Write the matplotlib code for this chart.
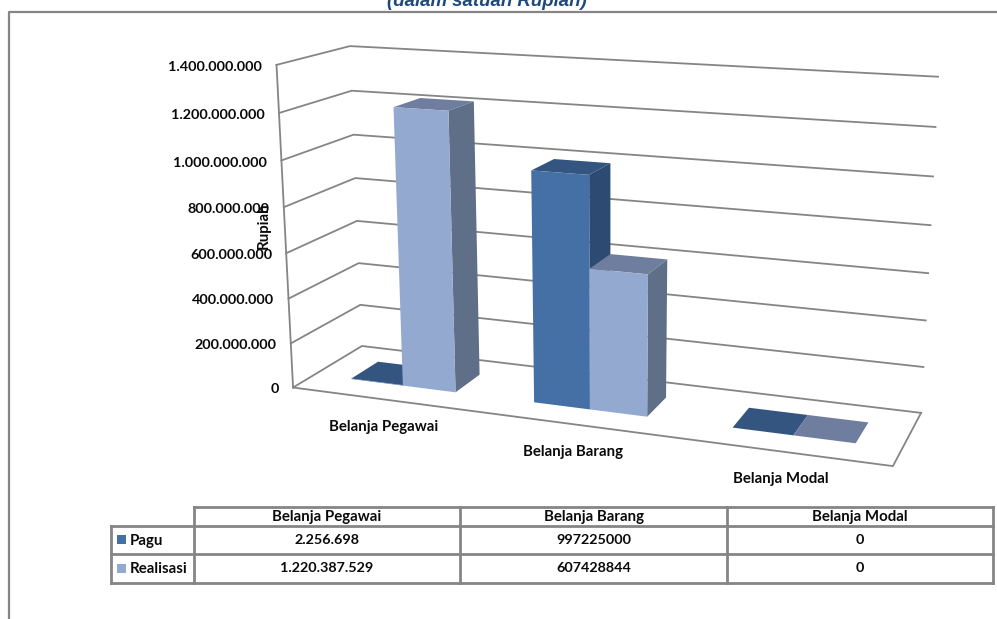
import numpy as np
import matplotlib
matplotlib.use("Agg")
from matplotlib import pyplot as plt

categories = ["Belanja Pegawai", "Belanja Barang", "Belanja Modal"]
pagu = [2256698, 997225000, 0]
realisasi = [1220387529, 607428844, 0]
pagu_text = ["2.256.698", "997225000", "0"]
realisasi_text = ["1.220.387.529", "607428844", "0"]
ticks = [0, 200000000, 400000000, 600000000, 800000000, 1000000000, 1200000000, 1400000000]

W, H = 997, 619
ZMAX = 1400000000.0
GREY = "#858585"

# bottom, top, front, back, left, right
CLEAR = "#00000000"
pagu_faces = [CLEAR, "#34557F", "#4570A6", CLEAR, CLEAR, "#2D4A72"]
real_faces = [CLEAR, "#6F7E9E", "#93A9CF", CLEAR, CLEAR, "#5F6F88"]

# camera fitted on the corners of the plot box: (x, depth, z/ZMAX) -> pixel
box_world = np.array([[0, 0, 0], [3, 0, 0], [3, 1, 0], [0, 1, 0], [0, 0, 1], [0, 1, 1], [3, 1, 1]], float)
box_pixel = np.array([[293, 387.5], [893, 466], [921, 413], [362, 346], [276.5, 65], [350, 46], [938, 76.7]])

A, b = [], []
for (X, Y, Z), (u, v) in zip(box_world, box_pixel):
    A.append([X, Y, Z, 1, 0, 0, 0, 0, -u * X, -u * Y, -u * Z])
    A.append([0, 0, 0, 0, X, Y, Z, 1, -v * X, -v * Y, -v * Z])
    b += [u, v]
p = np.linalg.lstsq(np.array(A), np.array(b), rcond=None)[0]
P = np.append(p, 1).reshape(3, 4)
P[:, 2] /= ZMAX

fig = plt.figure(figsize=(W / 100, H / 100), dpi=100)
ax = fig.add_axes([0, 0, 1, 1], projection="3d")
ax.set_axis_off()
ax.patch.set_visible(False)
ax.computed_zorder = False
ax.set_autoscale_on(False)
ax.set_proj_type("ortho")  # stops mplot3d clipping lines on depth
ax.apply_aspect = lambda position=None: None

vx0, vx1 = ax.viewLim.intervalx
vy0, vy1 = ax.viewLim.intervaly
to_view = np.array([[(vx1 - vx0) / W, 0, vx0], [0, -(vy1 - vy0) / H, vy1], [0, 0, 1]])
Q = to_view @ P
M = np.array([Q[0], Q[1], [0, 1, 0, 0], Q[2]])
ax.get_proj = lambda: M

# wall and floor lines
for v in ticks:
    ax.plot([0, 0, 3], [0, 1, 1], [v, v, v], color=GREY, lw=1.3, zorder=1)
ax.plot([0, 0], [0, 0], [0, ZMAX], color=GREY, lw=1.3, zorder=1)
ax.plot([0, 3, 3], [0, 0, 1], [0, 0, 0], color=GREY, lw=1.3, zorder=1)

# bars
bar_w = 0.29
for i in range(len(categories)):
    ax.bar3d(i + 0.21, 0.3, 0, bar_w, 0.4, pagu[i], color=pagu_faces, shade=False, linewidth=0, zorder=2 + i * 2)
    ax.bar3d(i + 0.5, 0.3, 0, bar_w, 0.4, realisasi[i], color=real_faces, shade=False, linewidth=0, zorder=3 + i * 2)

num_font = dict(family="Lato", weight="bold", color="#0a0a0a", fontsize=10.4)
name_font = dict(family="Lato", weight="bold", color="#0a0a0a", fontsize=10.8)

# overlay in pixels for the frame, title, labels and table
ov = fig.add_axes([0, 0, 1, 1], zorder=5)
ov.set_xlim(0, W)
ov.set_ylim(H, 0)
ov.axis("off")

# tick labels sit just left of the front wall edge
for v in ticks:
    tx, ty, tw = P @ np.array([-0.08, 0, v - 14000000, 1])
    ov.text(tx / tw, ty / tw, f"{v:,}".replace(",", "."), ha="right", va="center", **num_font)

ov.plot([9, 9, W], [H, 12, 12], color=GREY, lw=1.6)
ov.text(487, 2, "(dalam satuan Rupiah)", ha="center", va="center", family="Liberation Sans",
        weight="bold", style="italic", color="#1F497D", fontsize=13.4, clip_on=True)
ov.text(264, 226, "Rupiah", rotation=90, ha="center", va="center", **name_font)

for x, y, s in zip([384, 573, 781], [427, 452, 479], categories):
    ov.text(x, y, s, ha="center", va="center", **name_font)

# data table
col_x = [194, 460, 727, 993]
row_y = [507, 526, 554, 583]
left = 111
ov.plot([col_x[0], col_x[-1]], [row_y[0], row_y[0]], color=GREY, lw=2)
for y in row_y[1:]:
    ov.plot([left, col_x[-1]], [y, y], color=GREY, lw=2)
ov.plot([left, left], [row_y[1], row_y[-1]], color=GREY, lw=2)
for x in col_x:
    ov.plot([x, x], [row_y[0], row_y[-1]], color=GREY, lw=2)

for j, s in enumerate(categories):
    cx = (col_x[j] + col_x[j + 1]) / 2
    ov.text(cx, 516.5, s, ha="center", va="center", **name_font)
    ov.text(cx, 539.5, pagu_text[j], ha="center", va="center", **num_font)
    ov.text(cx, 568, realisasi_text[j], ha="center", va="center", **num_font)

for name, colour, yc in zip(["Pagu", "Realisasi"], ["#4570A6", "#93A9CF"], [539.5, 568]):
    ov.fill([117, 126, 126, 117], [yc - 4.5, yc - 4.5, yc + 4.5, yc + 4.5], color=colour, lw=0)
    ov.text(129.5, yc + 1, name, ha="left", va="center", **name_font)

fig.savefig("out.png", dpi=100)
